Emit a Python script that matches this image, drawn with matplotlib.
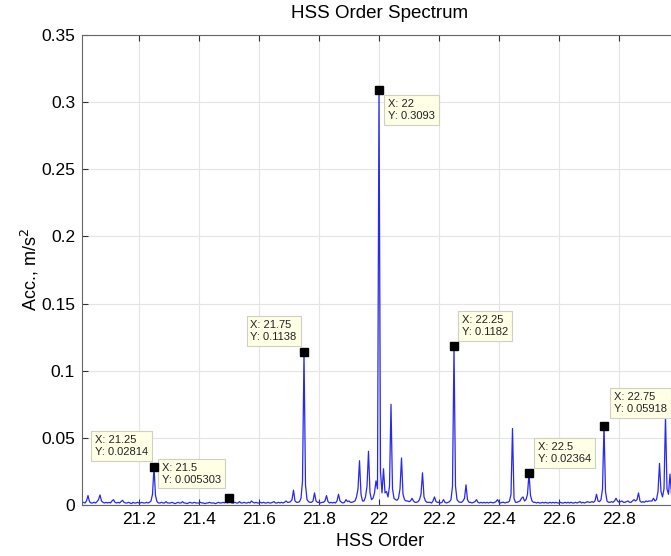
import numpy as np
import matplotlib
matplotlib.use("Agg")
import matplotlib.pyplot as plt

# spectrum amplitude in 1e-3 m/s^2, one value every 0.005 order from 21.000
amp_milli = [
    2, 1.5, 1.5, 2, 1.5, 3, 7, 2.5, 1.5, 1.5, 2, 1.5, 2.5, 4, 7.5, 3, 2, 1.5, 2, 1.5,
    2, 1.5, 3, 4, 2, 1.5, 2, 1.5, 2.5, 3.5, 2, 1.5, 1.5, 2, 1.5, 1, 2, 1.5, 1.5, 2,
    1.5, 1.5, 2, 1.5, 1.5, 2, 1.5, 2, 3, 8, 28.14, 7, 2.5, 1.5, 1.5, 2, 1.5, 1.5, 2.5, 1.5,
    1.5, 1.5, 2, 1.5, 1, 1.5, 2, 1.5, 1.5, 2.5, 1.5, 1.5, 1, 1.5, 2, 1.5, 1.5, 2, 1.5, 1.5,
    1.5, 2, 1.5, 1.5, 1, 1.5, 1.5, 2, 1.5, 1.5, 1.5, 1, 1.5, 2, 1.5, 1.5, 2, 1.5, 2.5, 1.5,
    5.303, 2, 1.5, 1.5, 2, 1.5, 1.5, 2.5, 1.5, 1.5, 2, 1.5, 1.5, 2, 1.5, 3, 2, 1.5, 2, 1.5,
    1.5, 2, 1.5, 2, 1.5, 1.5, 2, 1.5, 1.5, 2, 2.5, 1.5, 1.5, 2, 1.5, 2, 1.5, 2, 3, 2,
    2, 2.5, 4, 11, 3, 2, 2, 2.5, 5, 18, 113.8, 15, 4, 2.5, 2, 2, 3, 9, 3, 2,
    2, 1.5, 2, 2, 3, 7, 2.5, 1.5, 2, 1.5, 2, 1.5, 3, 8, 3, 2, 1.5, 2, 4, 2.5,
    3, 2, 2, 2.5, 3, 6, 12, 33, 8, 3, 3, 6, 14, 40, 9, 4, 5, 9, 18, 12,
    309.3, 25, 9, 27, 9, 10, 6, 14, 75, 12, 5, 4, 3.5, 5, 12, 35, 8, 4, 3, 3,
    2.5, 3, 5, 3, 2, 2, 2.5, 4, 8, 24, 6, 3, 2, 2, 2, 1.5, 3, 6, 2.5, 2,
    2, 1.5, 2, 4, 2, 1.5, 2, 2.5, 4, 14, 118.2, 14, 4, 2.5, 2, 2, 3, 5, 15, 4,
    2, 2, 1.5, 2, 2.5, 4, 2, 1.5, 2, 1.5, 2, 1.5, 2, 1.5, 2, 2, 1.5, 2, 2.5, 4,
    2, 1.5, 2, 2, 1.5, 2, 2, 3, 8, 57, 5, 2, 2, 2.5, 3, 5, 6, 3, 4, 8,
    23.64, 7, 3, 2, 2, 1.5, 2, 1.5, 1.5, 2, 1.5, 2, 1.5, 1.5, 2, 1.5, 2, 1.5, 2, 1.5,
    1.5, 2, 1.5, 1.5, 2, 1.5, 2, 1.5, 2, 1.5, 1.5, 2, 1.5, 2, 2.5, 1.5, 2, 1.5, 2, 2.5,
    2, 2, 2.5, 2, 3, 8, 3, 2.5, 4, 12, 59.18, 10, 3, 2, 2, 2.5, 2, 3, 5, 3,
    2, 2.5, 3, 2, 2, 2.5, 3, 2, 2, 3, 4, 3, 4, 9, 3, 2, 2.5, 2, 3, 2.5,
    3, 3, 3, 5, 3, 4, 10, 31, 10, 6, 12, 66, 12, 8, 23, 8, 5, 4, 6, 4,
]
order = np.round(21.0 + 0.005 * np.arange(len(amp_milli)), 3)
acc = np.array(amp_milli) / 1000.0

# data tips: x, y, label
tip_x = [21.25, 21.5, 21.75, 22.0, 22.25, 22.5, 22.75]
tip_y = [0.02814, 0.005303, 0.1138, 0.3093, 0.1182, 0.02364, 0.05918]
tip_xtxt = ["21.25", "21.5", "21.75", "22", "22.25", "22.5", "22.75"]
tip_ytxt = ["0.02814", "0.005303", "0.1138", "0.3093", "0.1182", "0.02364", "0.05918"]
# box corner offset from marker in pixels, and which corner
tip_off = [(-3, 7), (-5, 10), (-4, 7), (6, -6), (5, 6), (6, 6), (7, 8)]
tip_side = ["ul", "ul", "ul", "lr", "ur", "ur", "ur"]

xticks = [21.2, 21.4, 21.6, 21.8, 22.0, 22.2, 22.4, 22.6, 22.8]
xticklabels = ["21.2", "21.4", "21.6", "21.8", "22", "22.2", "22.4", "22.6", "22.8"]
yticks = [0, 0.05, 0.1, 0.15, 0.2, 0.25, 0.3, 0.35]
yticklabels = ["0", "0.05", "0.1", "0.15", "0.2", "0.25", "0.3", "0.35"]

plt.rcParams['font.family'] = ['Liberation Sans', 'DejaVu Sans']

W, H = 671, 556
fig = plt.figure(figsize=(W / 100, H / 100), dpi=100)
ax = fig.add_axes([82 / W, (H - 505) / H, 597 / W, 470 / H])

ax.plot(order, acc, color='#2828ee', linewidth=0.9)
ax.set_xlim(21.01, 23.0)
ax.set_ylim(0, 0.35)
ax.set_xticks(xticks)
ax.set_xticklabels(xticklabels)
ax.set_yticks(yticks)
ax.set_yticklabels(yticklabels)
ax.tick_params(direction='in', length=4, width=0.8, top=True, right=True,
               labelsize=12.5, colors='#333333', labelcolor='black', pad=5)
ax.grid(True, color='#e4e4e4', linewidth=0.8)
ax.set_axisbelow(True)
for sp in ax.spines.values():
    sp.set_color('#666666')
    sp.set_linewidth(0.8)

fs = 8
pad_px = 0.3 * fs * 100 / 72
for x, y, xt, yt, (dx, dy), side in zip(tip_x, tip_y, tip_xtxt, tip_ytxt, tip_off, tip_side):
    ax.plot([x], [y], marker='s', markersize=6, color='black', zorder=7)
    if side == "ul":
        ha, va, tx, ty = 'right', 'bottom', dx - pad_px, dy + pad_px
    elif side == "ur":
        ha, va, tx, ty = 'left', 'bottom', dx + pad_px, dy + pad_px
    else:
        ha, va, tx, ty = 'left', 'top', dx + pad_px, dy - pad_px
    ax.annotate("X: %s\nY: %s" % (xt, yt), xy=(x, y), xytext=(tx, ty),
                textcoords='offset pixels', ha=ha, va=va, fontsize=fs,
                multialignment='left', color='#222222', linespacing=1.25, zorder=6,
                bbox=dict(boxstyle='square,pad=0.35', facecolor='#ffffe6',
                          edgecolor='#d0d0c0', linewidth=0.8))

fig.text(380 / W, 1 - 14 / H, "HSS Order Spectrum", ha='center', va='center', fontsize=13.5)
fig.text(380 / W, 1 - 541 / H, "HSS Order", ha='center', va='center', fontsize=13)
fig.text(30 / W, 1 - 270 / H, "Acc., m/s$^2$", ha='center', va='center',
         rotation=90, fontsize=13)

fig.savefig("out.png", dpi=100)
